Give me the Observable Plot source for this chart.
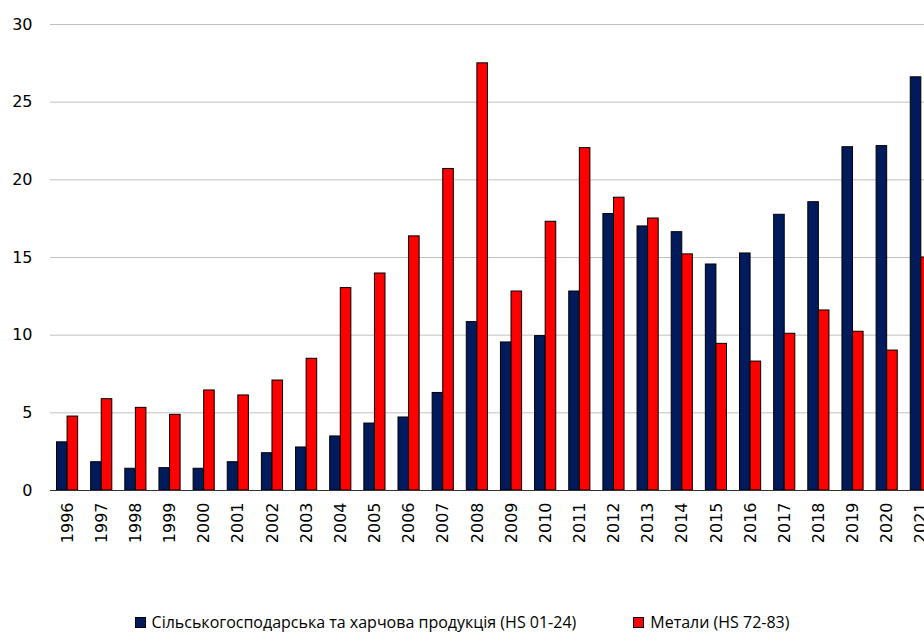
<!DOCTYPE html>
<html><head><meta charset="utf-8">
<script src="https://cdn.jsdelivr.net/npm/d3@7"></script>
<script src="https://cdn.jsdelivr.net/npm/@observablehq/plot@0.6"></script>
<style>
html,body{margin:0;padding:0;background:#fff;overflow:hidden;width:924px;height:632px}
#legend{display:flex;justify-content:center;gap:57px;font-family:"Open Sans",sans-serif;font-size:16px;line-height:20px;padding-top:12px;color:#000}
.item{display:flex;align-items:center}
.sw{width:9px;height:9px;border:1px solid #000;margin-right:6px}
</style></head><body><div id="chart"></div><div id="legend"></div>
<script>
const years = [1996,1997,1998,1999,2000,2001,2002,2003,2004,2005,2006,2007,2008,2009,2010,2011,2012,2013,2014,2015,2016,2017,2018,2019,2020,2021];
const agri = [3.1,1.82,1.4,1.44,1.4,1.82,2.4,2.77,3.48,4.31,4.7,6.28,10.84,9.53,9.94,12.81,17.8,17.0,16.63,14.55,15.26,17.75,18.56,22.1,22.17,26.6];
const metals = [4.76,5.88,5.32,4.87,6.44,6.12,7.08,8.48,13.03,13.97,16.36,20.7,27.5,12.81,17.3,22.04,18.85,17.51,15.2,9.44,8.3,10.09,11.59,10.22,9.01,15.0];
const seriesNames = ["Сільськогосподарська та харчова продукція (HS 01-24)", "Метали (HS 72-83)"];
const colors = ["#001a5c", "#ff0000"];
const yTicks = [0,5,10,15,20,25,30];

const data = years.map((y, i) => ({year: String(y), agri: agri[i], metals: metals[i]}));
const W = 924, H = 600, band = 34.15, left = 50;
const chart = Plot.plot({
  width: W, height: H,
  marginLeft: left, marginRight: 0, marginTop: 24, marginBottom: 110,
  style: {fontFamily: "DejaVu Sans", fontSize: "16px", color: "#000", background: "#fff"},
  x: {domain: years.map(String), range: [left, left + band * years.length], padding: 0, round: false, label: null},
  y: {domain: [0, 30], label: null},
  marks: [
    Plot.gridY(yTicks.slice(1), {stroke: "#c0c0c0", strokeOpacity: 1}),
    Plot.barY(data, {x: "year", y: "agri", fill: colors[0], stroke: "#000", strokeWidth: 1, insetLeft: 6.5, insetRight: band / 2}),
    Plot.barY(data, {x: "year", y: "metals", fill: colors[1], stroke: "#000", strokeWidth: 1, insetLeft: band / 2, insetRight: 6.5}),
    Plot.ruleY([0], {stroke: "#333"}),
    Plot.axisY({ticks: yTicks, tickSize: 0, tickPadding: 18, line: true, stroke: "#808080", fill: "#000", fontSize: 16}),
    Plot.axisX({tickSize: 0, tickRotate: -90, tickPadding: 12, fill: "#000", fontSize: 16})
  ]
});
document.getElementById("chart").appendChild(chart);

const legend = document.getElementById("legend");
seriesNames.forEach((n, i) => {
  const it = document.createElement("div");
  it.className = "item";
  const sw = document.createElement("span");
  sw.className = "sw";
  sw.style.background = colors[i];
  const t = document.createElement("span");
  t.textContent = n;
  it.appendChild(sw); it.appendChild(t);
  legend.appendChild(it);
});
</script>
</body></html>
